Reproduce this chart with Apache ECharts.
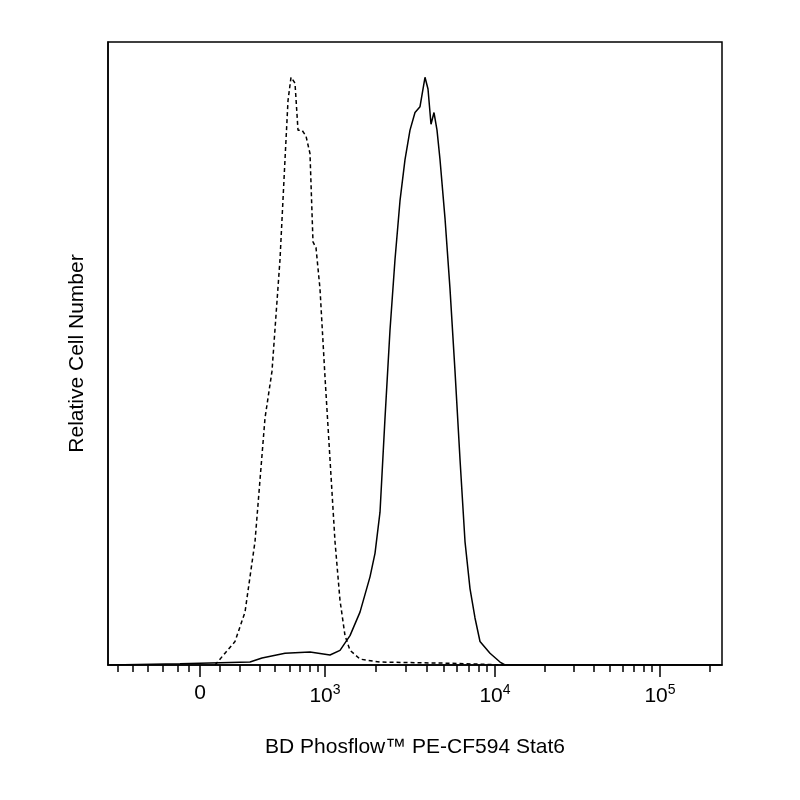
<!DOCTYPE html>
<html><head><meta charset="utf-8">
<script src="https://cdn.jsdelivr.net/npm/echarts@6/dist/echarts.min.js"></script>
<style>html,body{margin:0;background:#fff}#c{width:800px;height:800px}</style>
</head><body><div id="c"></div>
<script>
// x in display channel units (0 = value 0, 125 = 10^3, 295 = 10^4, 460 = 10^5)
const dashedX = [15,25,35,45,55,65,72,80,85,88,91,95,98,102,106,110,113,116,120,125,130,135,140,145,150,160,180,250,305];
const dashedY = [0,2,4,9,21,42,50,69,86,96,100,99,91,91,90,87,72,71,64,49,35,21,11,5,2.5,1,0.5,0.3,0];
const solidX = [-90,-20,50,62,85,110,130,140,150,160,170,175,180,185,190,195,200,205,210,215,220,225,228,231,234,237,240,245,250,255,260,265,270,275,280,290,300,305,520];
const solidY = [0,0.2,0.5,1.2,2,2.2,1.7,2.5,5,9,15,19,26,42,57,69,79,86,91,94,95,100,98,92,94,91,86,76,64,50,35,21,13,8,4,2,0.5,0,0];
const tickLabels = ['0','10^3','10^4','10^5'];
const majorPos = [0,125,295,460];
const minorPos = [-82,-67,-52,-37,-22,-11,20,40,60,75,90,100,110,118];
[[125,170],[295,165],[460,165]].forEach(([b,w])=>{for(let k=2;k<=9;k++){const p=b+w*Math.log10(k);if(p<522)minorPos.push(Math.round(p));}});

const chart = echarts.init(document.getElementById('c'));
const fmt = v => { const i = majorPos.indexOf(Math.round(v)); if(i<0) return ''; const t=tickLabels[i]; return t.startsWith('10^')?'{b|10}{s|'+t.slice(3)+'}':'{b|'+t+'}'; };
const font = 'Liberation Sans, Arial, sans-serif';
chart.setOption({
  animation:false,
  grid:{left:108,right:78,top:42,bottom:135,show:true,borderColor:'#000',borderWidth:1.5},
  xAxis:[{type:'value',min:-92,max:522,
    axisLine:{onZero:false,lineStyle:{color:'#000',width:1.5}},
    axisTick:{customValues:majorPos,length:12,lineStyle:{color:'#000',width:1.5}},
    axisLabel:{customValues:majorPos,formatter:fmt,margin:18,rich:{b:{fontSize:21,fontFamily:font,color:'#000'},s:{fontSize:14,fontFamily:font,color:'#000',verticalAlign:'top',padding:[0,0,12,0]}}},
    splitLine:{show:false},
    name:'BD Phosflow™ PE-CF594 Stat6',nameLocation:'middle',nameGap:72,
    nameTextStyle:{fontSize:21,fontFamily:font,color:'#000'}},
   {type:'value',min:-92,max:522,position:'bottom',
    axisLine:{show:false},axisLabel:{show:false},splitLine:{show:false},
    axisTick:{customValues:minorPos,length:7,lineStyle:{color:'#000',width:1.5}}}],
  yAxis:[{type:'value',min:0,max:106,axisLine:{show:true,onZero:false,lineStyle:{color:'#000',width:1.5}},axisTick:{show:false},axisLabel:{show:false},splitLine:{show:false},
    name:'Relative Cell Number',nameLocation:'middle',nameGap:20,nameTextStyle:{fontSize:21,fontFamily:font,color:'#000'}}],
  series:[
    {type:'line',data:dashedX.map((x,i)=>[x,dashedY[i]]),symbol:'none',lineStyle:{color:'#000',width:1.5,type:[4,3]}},
    {type:'line',data:solidX.map((x,i)=>[x,solidY[i]]),symbol:'none',lineStyle:{color:'#000',width:1.5}}
  ]
});
</script></body></html>
